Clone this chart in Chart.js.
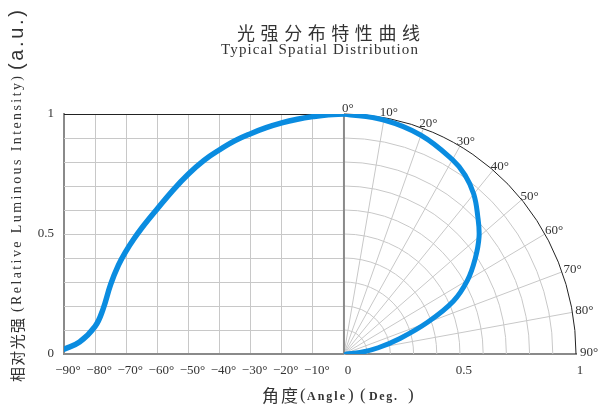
<!DOCTYPE html>
<html>
<head>
<meta charset="utf-8">
<script src="https://cdn.jsdelivr.net/npm/chart.js@4/dist/chart.umd.min.js"></script>
<style>
  html, body { margin: 0; background: #fff; }
</style>
</head>
<body>
<canvas id="myChart" width="606" height="410"></canvas>
<script>
// left half: relative intensity vs. angle (deg)
var leftAngles = [-90, -85, -80, -77.5, -75, -72.5, -70, -67.5, -65, -60, -55, -50, -45, -40, -35, -30, -25, -20, -15, -10, -5, 0];
var leftIntensity = [0.02, 0.05, 0.115, 0.185, 0.29, 0.37, 0.43, 0.48, 0.525, 0.605, 0.682, 0.75, 0.807, 0.851, 0.889, 0.918, 0.943, 0.963, 0.978, 0.989, 0.997, 1.0];

// right half: same thing drawn in polar form
var polarAngles = [0, 10, 20, 30, 35, 40, 45, 50, 55, 60, 65, 70, 75, 80, 85, 90];
var polarIntensity = [1.0, 0.99, 0.97, 0.935, 0.91, 0.87, 0.815, 0.76, 0.69, 0.615, 0.52, 0.38, 0.25, 0.15, 0.07, 0.01];

var angleTicks = [-90, -80, -70, -60, -50, -40, -30, -20, -10, 0];
var radiusTicks = [0.5, 1];
var intensityTicks = [0, 0.5, 1];
var gridSteps = [0.1, 0.2, 0.3, 0.4, 0.5, 0.6, 0.7, 0.8, 0.9];
var spokeAngles = [10, 20, 30, 40, 50, 60, 70, 80];
var polarLabels = [0, 10, 20, 30, 40, 50, 60, 70, 80, 90];

// radius 1 of the polar part, in x-axis units (the left half uses 1 unit per degree)
var R = 74.6;

var blue = '#0A8CE0';
var serif = '"Liberation Serif", "DejaVu Serif", serif';
var cjk = '"Noto Sans CJK SC", sans-serif';

function rad(d) { return d * Math.PI / 180; }

// draw text spread to a target width
function fitText(ctx, text, font, x, y, width) {
    ctx.font = font;
    ctx.letterSpacing = '0px';
    var w = ctx.measureText(text).width;
    var sp = text.length > 1 ? (width - w) / (text.length - 1) : 0;
    ctx.letterSpacing = sp + 'px';
    ctx.fillText(text, x, y);
    ctx.letterSpacing = '0px';
}

var polarGrid = {
    id: 'polarGrid',
    beforeDatasetsDraw: function(chart) {
        var ctx = chart.ctx, x = chart.scales.x, y = chart.scales.y;
        var cx = x.getPixelForValue(0), cy = y.getPixelForValue(0);
        var rx = x.getPixelForValue(R) - cx, ry = cy - y.getPixelForValue(1);
        ctx.save();
        ctx.lineWidth = 1;
        ctx.strokeStyle = '#c8c8c8';
        gridSteps.forEach(function(v) {
            var py = Math.round(y.getPixelForValue(v)) + 0.5;
            ctx.beginPath(); ctx.moveTo(x.left, py); ctx.lineTo(cx, py); ctx.stroke();
        });
        gridSteps.forEach(function(r) {
            ctx.beginPath(); ctx.ellipse(cx, cy, rx * r, ry * r, 0, -Math.PI / 2, 0); ctx.stroke();
        });
        spokeAngles.forEach(function(a) {
            ctx.beginPath(); ctx.moveTo(cx, cy);
            ctx.lineTo(cx + rx * Math.sin(rad(a)), cy - ry * Math.cos(rad(a)));
            ctx.stroke();
        });
        ctx.strokeStyle = '#8a8a8a';
        ctx.lineWidth = 2;
        ctx.beginPath(); ctx.moveTo(cx, cy); ctx.lineTo(cx, y.top); ctx.stroke();
        ctx.strokeStyle = '#222';
        ctx.lineWidth = 1;
        ctx.beginPath(); ctx.ellipse(cx, cy, rx, ry, 0, -Math.PI / 2, 0); ctx.stroke();
        ctx.beginPath(); ctx.moveTo(x.left, Math.round(y.top) + 0.5); ctx.lineTo(cx, Math.round(y.top) + 0.5); ctx.stroke();
        ctx.restore();
    },
    afterDraw: function(chart) {
        var ctx = chart.ctx, x = chart.scales.x, y = chart.scales.y;
        var cx = x.getPixelForValue(0), cy = y.getPixelForValue(0);
        var rx = x.getPixelForValue(R) - cx, ry = cy - y.getPixelForValue(1);
        ctx.save();
        ctx.fillStyle = '#333';
        ctx.textBaseline = 'middle';

        // polar angle labels
        ctx.textAlign = 'center';
        ctx.font = '13px ' + serif;
        polarLabels.forEach(function(a) {
            var s = Math.sin(rad(a)), c = Math.cos(rad(a));
            var px = cx + rx * s + 4 + 9 * s - 3 * Math.sin(rad(2 * a));
            var py = cy - ry * c - 4 * c - 1;
            ctx.fillText(a + '°', px, py);
        });

        // titles
        ctx.textAlign = 'left';
        fitText(ctx, '光强分布特性曲线', '18px ' + cjk, 237, 33, 183);
        fitText(ctx, 'Typical Spatial Distribution', '15px ' + serif, 221, 50, 197);

        // x axis title
        var xt = 396;
        fitText(ctx, '角度', '17px ' + cjk, 262, xt, 36);
        ctx.font = '17px ' + serif;
        ctx.fillText('(', 300, xt);
        ctx.fillText(')', 348, xt);
        ctx.fillText('(', 360, xt);
        ctx.fillText(')', 408, xt);
        fitText(ctx, 'Angle', 'bold 12px ' + serif, 307, xt + 1, 38);
        fitText(ctx, 'Deg.', 'bold 12px ' + serif, 369, xt + 1, 28);

        // y axis title, rotated
        ctx.translate(17, 382);
        ctx.rotate(-Math.PI / 2);
        fitText(ctx, '相对光强', '15px ' + cjk, 0, 0, 64);
        fitText(ctx, '(Relative Luminous Intensity)', '14px ' + serif, 70, 0, 236);
        fitText(ctx, '(a.u.)', '20px "Liberation Sans", sans-serif', 312, 0, 60);
        ctx.restore();
    }
};

var ctx = document.getElementById('myChart').getContext('2d');
var myChart = new Chart(ctx, {
    type: 'scatter',
    data: {
        datasets: [{
            label: 'Intensity vs angle',
            data: leftAngles.map(function(a, i) { return {x: a, y: leftIntensity[i]}; }),
            showLine: true,
            borderColor: blue,
            borderWidth: 5.5,
            pointRadius: 0,
            tension: 0.4,
            borderCapStyle: 'round'
        },
        {
            label: 'Polar',
            data: polarAngles.map(function(a, i) {
                return {x: R * polarIntensity[i] * Math.sin(rad(a)), y: polarIntensity[i] * Math.cos(rad(a))};
            }),
            showLine: true,
            borderColor: blue,
            borderWidth: 5,
            pointRadius: 0,
            tension: 0.4,
            borderCapStyle: 'round'
        }]
    },
    options: {
        responsive: false,
        animation: false,
        layout: { padding: { left: 0, right: 30, top: 114, bottom: 0 } },
        plugins: {
            legend: { display: false },
            tooltip: { enabled: false }
        },
        scales: {
            x: {
                type: 'linear',
                min: -90,
                max: R,
                afterFit: function(s) { s.height = 56; },
                afterBuildTicks: function(s) {
                    s.ticks = angleTicks.concat(radiusTicks.map(function(r) { return r * R; }))
                        .map(function(v) { return {value: v}; });
                },
                border: { color: '#8a8a8a', width: 2 },
                grid: {
                    drawTicks: false,
                    color: function(c) { return c.tick && c.tick.value < 0 ? '#c8c8c8' : 'rgba(0,0,0,0)'; }
                },
                ticks: {
                    padding: 9,
                    labelOffset: 4,
                    color: '#333',
                    font: { family: serif, size: 13 },
                    callback: function(v) {
                        if (v < 0) return '−' + Math.abs(v) + '°';
                        return String(Math.round(v / R * 10) / 10);
                    }
                }
            },
            y: {
                min: 0,
                max: 1,
                afterFit: function(s) { s.width = 64; },
                afterBuildTicks: function(s) {
                    s.ticks = intensityTicks.map(function(v) { return {value: v}; });
                },
                border: { color: '#8a8a8a', width: 2 },
                grid: { drawOnChartArea: false, drawTicks: false },
                ticks: {
                    padding: 10,
                    color: '#333',
                    font: { family: serif, size: 13 },
                    callback: function(v) { return String(v); }
                }
            }
        }
    },
    plugins: [polarGrid]
});
</script>
</body>
</html>
